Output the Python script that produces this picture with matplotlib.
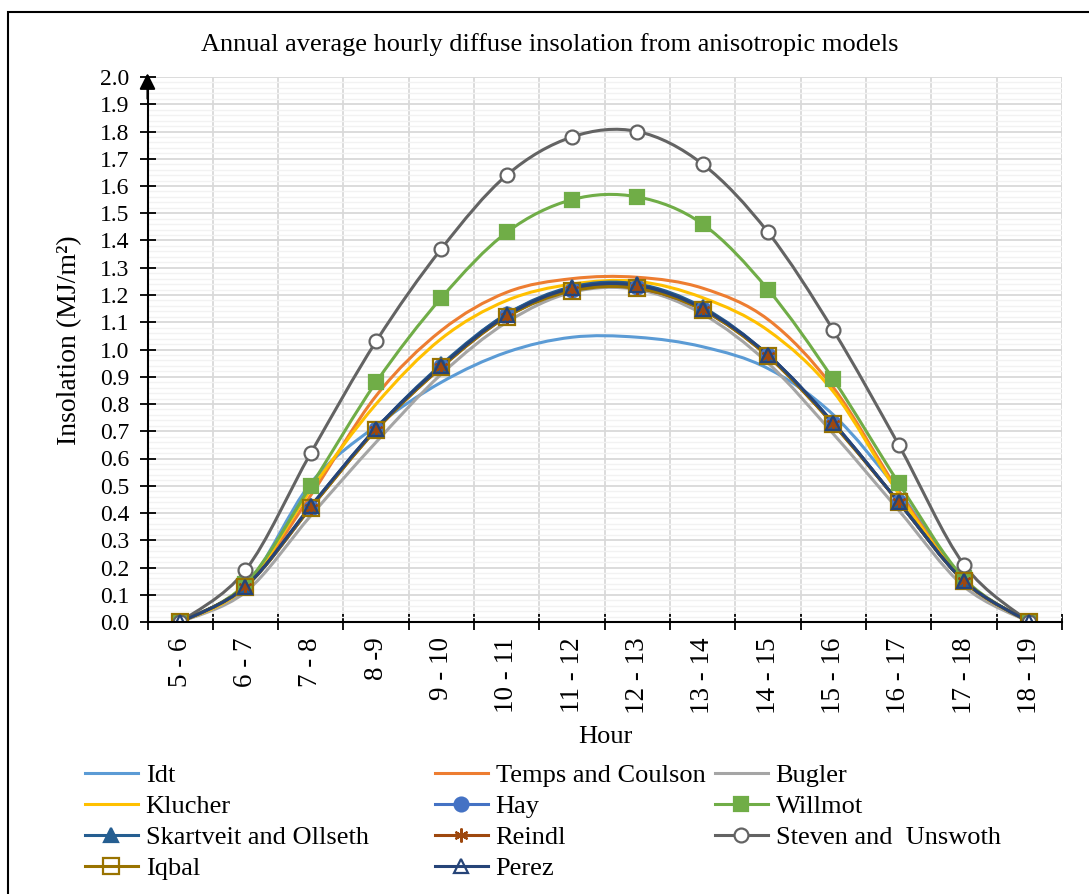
import numpy as np
import matplotlib
matplotlib.use('Agg')
import matplotlib.pyplot as plt
from matplotlib.path import Path
from matplotlib.patches import PathPatch, Rectangle
from matplotlib.lines import Line2D

plt.rcParams['font.family'] = ['Liberation Serif', 'DejaVu Serif']

# Data
hours = ['5 - 6', '6 - 7', '7 - 8', '8 -9', '9 - 10', '10 - 11', '11 - 12',
         '12 - 13', '13 - 14', '14 - 15', '15 - 16', '16 - 17', '17 - 18', '18 - 19']

idt = [0, 0.13, 0.51, 0.72, 0.88, 0.99, 1.045, 1.045, 1.01, 0.93, 0.76, 0.48, 0.15, 0]
temps = [0, 0.13, 0.465, 0.83, 1.07, 1.21, 1.26, 1.265, 1.225, 1.11, 0.86, 0.48, 0.15, 0]
bugler = [0, 0.11, 0.39, 0.66, 0.91, 1.10, 1.21, 1.22, 1.13, 0.95, 0.69, 0.41, 0.13, 0]
klucher = [0, 0.13, 0.485, 0.80, 1.04, 1.18, 1.24, 1.25, 1.19, 1.07, 0.845, 0.47, 0.15, 0]
hay = [0, 0.13, 0.42, 0.71, 0.94, 1.13, 1.22, 1.23, 1.15, 0.98, 0.73, 0.44, 0.15, 0]
willmot = [0, 0.14, 0.50, 0.88, 1.19, 1.43, 1.55, 1.56, 1.46, 1.22, 0.89, 0.51, 0.16, 0]
skartveit = [0, 0.13, 0.425, 0.71, 0.945, 1.13, 1.23, 1.24, 1.155, 0.98, 0.73, 0.44, 0.15, 0]
reindl = [0, 0.13, 0.42, 0.705, 0.935, 1.12, 1.22, 1.225, 1.145, 0.975, 0.725, 0.44, 0.15, 0]
steven = [0, 0.19, 0.62, 1.03, 1.37, 1.64, 1.78, 1.80, 1.68, 1.43, 1.07, 0.65, 0.21, 0]
iqbal = [0, 0.13, 0.42, 0.705, 0.935, 1.12, 1.215, 1.225, 1.145, 0.975, 0.725, 0.44, 0.15, 0]
perez = [0, 0.13, 0.425, 0.71, 0.94, 1.125, 1.225, 1.235, 1.15, 0.98, 0.73, 0.44, 0.15, 0]

# name, values, color, marker, marker size, marker face
series = [
    ('Idt', idt, '#5B9BD5', None, 0, None),
    ('Temps and Coulson', temps, '#ED7D31', None, 0, None),
    ('Bugler', bugler, '#A5A5A5', None, 0, None),
    ('Klucher', klucher, '#FFC000', None, 0, None),
    ('Hay', hay, '#4472C4', 'o', 10, '#4472C4'),
    ('Willmot', willmot, '#70AD47', 's', 10.5, '#70AD47'),
    ('Skartveit and Ollseth', skartveit, '#255E91', '^', 9.5, '#255E91'),
    ('Reindl', reindl, '#9E480E', (6, 2, 0), 10, '#9E480E'),
    ('Steven and  Unswoth', steven, '#636363', 'o', 10, 'white'),
    ('Iqbal', iqbal, '#997300', 's', 11, 'none'),
    ('Perez', perez, '#264478', '^', 10, 'none'),
]


def smooth_path(x, y):
    # Excel-like smoothed line: cubic bezier through every point
    p = np.column_stack([x, y]).astype(float)
    n = len(p)
    verts = [p[0]]
    for i in range(n - 1):
        p0 = p[max(i - 1, 0)]
        p1 = p[i]
        p2 = p[i + 1]
        p3 = p[min(i + 2, n - 1)]
        verts += [p1 + (p2 - p0) / 6, p2 - (p3 - p1) / 6, p2]
    codes = [Path.MOVETO] + [Path.CURVE4] * (3 * (n - 1))
    return Path(verts, codes)


W, H = 1089, 894
fig = plt.figure(figsize=(W / 100, H / 100), dpi=100)
ax = fig.add_axes([147.5 / W, 1 - 622 / H, (1062 - 147.5) / W, (622 - 77) / H])

x = np.arange(len(hours))
lw = 2.2
handles = {}
for name, vals, col, mk, ms, mfc in series:
    ax.add_patch(PathPatch(smooth_path(x, vals), facecolor='none', edgecolor=col,
                           lw=lw, zorder=3, capstyle='round', joinstyle='round'))
    if mk is not None:
        ax.plot(x, vals, linestyle='none', marker=mk, ms=ms, mfc=mfc, mec=col,
                mew=1.6, zorder=4)
    handles[name] = Line2D([], [], color=col, lw=lw, marker=mk, ms=ms,
                           mfc=mfc, mec=col, mew=1.6)

ax.set_xlim(-0.5, len(hours) - 0.5)
ax.set_ylim(0, 2.0)
ax.set_yticks(np.arange(0, 2.01, 0.1))
ax.set_yticklabels([f'{v:.1f}' for v in np.arange(0, 2.01, 0.1)])
ax.set_yticks(np.arange(0, 2.001, 0.02), minor=True)
ax.set_xticks(x)
ax.set_xticklabels(hours, rotation=90)
ax.set_xticks(np.arange(-0.5, len(hours)), minor=True)

ax.tick_params(axis='y', which='major', direction='inout', length=11, width=1.3,
               labelsize=17, pad=7.5)
ax.tick_params(axis='y', which='minor', length=0)
ax.tick_params(axis='x', which='major', length=0, labelsize=19.5, pad=11)
ax.tick_params(axis='x', which='minor', direction='inout', length=11, width=1.3)

ax.grid(True, which='major', axis='y', color='#D9D9D9', lw=1.3, zorder=0)
ax.grid(True, which='minor', axis='y', color='#F2F2F2', lw=1.0, zorder=0)
ax.grid(True, which='minor', axis='x', color='#D9D9D9', lw=1.3, zorder=0)
ax.set_axisbelow(True)

for s in ['top', 'right']:
    ax.spines[s].set_visible(False)
for s in ['left', 'bottom']:
    ax.spines[s].set_linewidth(1.5)
    ax.spines[s].set_zorder(5)

# arrow head at the top of the y axis
ax.annotate('', xy=(0, 1.007), xytext=(0, 0.96), xycoords='axes fraction',
            arrowprops=dict(arrowstyle='-|>', color='black', lw=1.5,
                            mutation_scale=24, shrinkA=0, shrinkB=0))

fs = 19
fig.text(0.505, 1 - 45 / H, 'Annual average hourly diffuse insolation from anisotropic models',
         fontsize=fs, ha='center', va='center')
fig.text(605 / W, 1 - 737 / H, 'Hour', fontsize=fs, ha='center', va='center')
fig.text(70 / W, 1 - 340 / H, 'Insolation (MJ/m²)', fontsize=20, ha='center',
         va='center', rotation=90)

# legend in three columns, rows filled across like the original
cols = [['Idt', 'Klucher', 'Skartveit and Ollseth', 'Iqbal'],
        ['Temps and Coulson', 'Hay', 'Reindl', 'Perez'],
        ['Bugler', 'Willmot', 'Steven and  Unswoth']]
col_x = [85, 435, 715]
for names, cx in zip(cols, col_x):
    fig.legend([handles[n] for n in names], names, loc='upper left',
               bbox_to_anchor=(cx / W, 1 - 764 / H), frameon=False,
               borderpad=0, borderaxespad=0, handlelength=2.0,
               handletextpad=0.3, labelspacing=0.28, fontsize=fs)

fig.add_artist(Rectangle((8 / W, -0.1), 1.2, 1 - 12 / H + 0.1,
                         transform=fig.transFigure, fill=False,
                         edgecolor='black', lw=1.5))

fig.savefig('out.png', dpi=100)
